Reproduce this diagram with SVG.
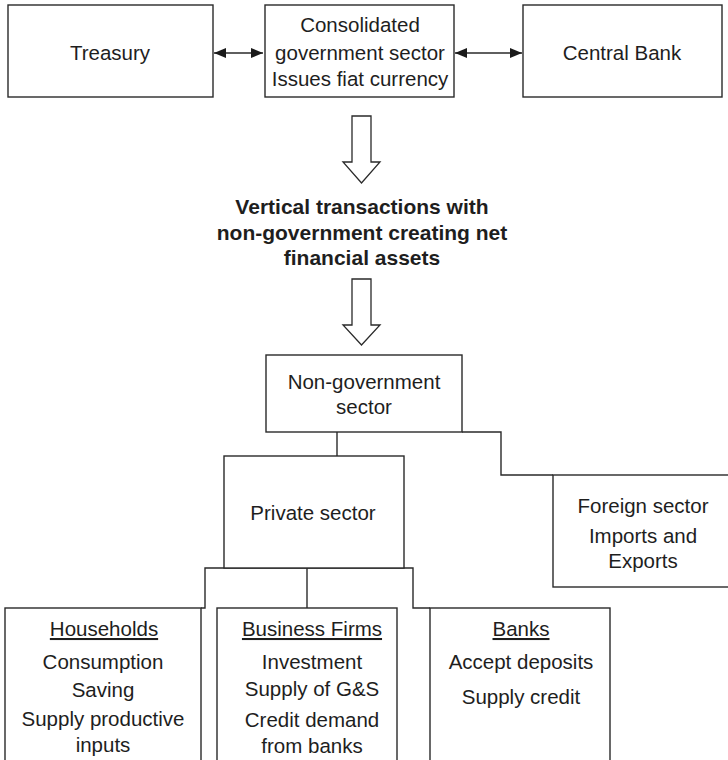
<svg xmlns="http://www.w3.org/2000/svg" width="728" height="760" viewBox="0 0 728 760">
<style>
.box{fill:#fff;stroke:#2a2a2a;stroke-width:1.4}
.t{font-family:"Liberation Sans",Arial,sans-serif;font-size:20.5px;fill:#1e1e1e;text-anchor:middle}
.b{font-family:"Liberation Sans",Arial,sans-serif;font-size:21px;font-weight:bold;fill:#1e1e1e;text-anchor:middle}
.u{text-decoration:underline}
.c{fill:none;stroke:#2a2a2a;stroke-width:1.4}
.hollow{fill:#fff;stroke:#2a2a2a;stroke-width:1.3}
</style>
<defs>
<marker id="ah" viewBox="0 0 12 10" refX="12" refY="5" markerWidth="12" markerHeight="10" markerUnits="userSpaceOnUse" orient="auto-start-reverse">
<path d="M0,0 L12,5 L0,10 z" fill="#1a1a1a"/>
</marker>
</defs>
<rect width="728" height="760" fill="#fff"/>
<g id="connectors">
<line class="c" x1="214" y1="53" x2="263" y2="53" marker-start="url(#ah)" marker-end="url(#ah)"/>
<line class="c" x1="455" y1="53" x2="522" y2="53" marker-start="url(#ah)" marker-end="url(#ah)"/>
<path class="hollow" d="M352,116 L371,116 L371,162 L380,162 L361.5,183 L343,162 L352,162 Z"/>
<path class="hollow" d="M352,279 L371,279 L371,325 L380,325 L361.5,345 L343,325 L352,325 Z"/>
<polyline class="c" points="337,432 337,456"/>
<polyline class="c" points="462,432 501,432 501,475 553,475"/>
<polyline class="c" points="201,608 205,608 205,568 413,568 413,608 430,608"/>
<polyline class="c" points="307,568 307,608"/>
</g>
<g id="treasury">
<rect class="box" x="8" y="5" width="205" height="92"/>
<text class="t" x="110" y="60">Treasury</text>
</g>
<g id="consolidated">
<rect class="box" x="265" y="5" width="189" height="92"/>
<text class="t" x="360" y="32">Consolidated</text>
<text class="t" x="360" y="60">government sector</text>
<text class="t" x="360" y="86">Issues fiat currency</text>
</g>
<g id="centralbank">
<rect class="box" x="523" y="5" width="199" height="92"/>
<text class="t" x="622" y="60">Central Bank</text>
</g>
<g id="vertical">
<text class="b" x="362" y="214">Vertical transactions with</text>
<text class="b" x="362" y="240">non-government creating net</text>
<text class="b" x="362" y="265">financial assets</text>
</g>
<g id="nongov">
<rect class="box" x="266" y="355" width="196" height="77"/>
<text class="t" x="364" y="389">Non-government</text>
<text class="t" x="364" y="414">sector</text>
</g>
<g id="private">
<rect class="box" x="224" y="456" width="180" height="112"/>
<text class="t" x="313" y="520">Private sector</text>
</g>
<g id="foreign">
<rect class="box" x="553" y="475" width="185" height="112"/>
<text class="t" x="643" y="513">Foreign sector</text>
<text class="t" x="643" y="543">Imports and</text>
<text class="t" x="643" y="568">Exports</text>
</g>
<g id="households">
<rect class="box" x="5" y="608" width="196" height="170"/>
<text class="t u" x="104" y="636">Households</text>
<text class="t" x="103" y="669">Consumption</text>
<text class="t" x="103" y="697">Saving</text>
<text class="t" x="103" y="726">Supply productive</text>
<text class="t" x="103" y="752">inputs</text>
</g>
<g id="firms">
<rect class="box" x="217" y="608" width="180" height="170"/>
<text class="t u" x="312" y="636">Business Firms</text>
<text class="t" x="312" y="669">Investment</text>
<text class="t" x="312" y="696">Supply of G&amp;S</text>
<text class="t" x="312" y="727">Credit demand</text>
<text class="t" x="312" y="753">from banks</text>
</g>
<g id="banks">
<rect class="box" x="430" y="608" width="180" height="170"/>
<text class="t u" x="521" y="636">Banks</text>
<text class="t" x="521" y="669">Accept deposits</text>
<text class="t" x="521" y="704">Supply credit</text>
</g>
</svg>
